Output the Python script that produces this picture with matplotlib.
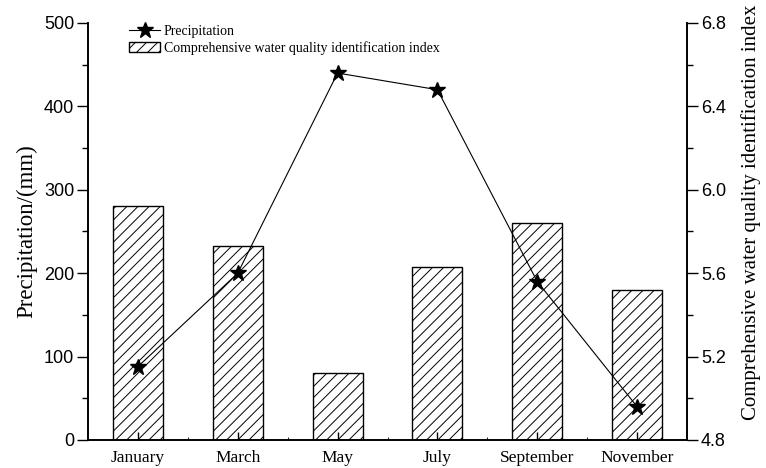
import matplotlib
matplotlib.use("Agg")
import matplotlib.pyplot as plt
from matplotlib.ticker import MultipleLocator, FixedLocator
import numpy as np

months = ["January", "March", "May", "July", "September", "November"]
precipitation = [88, 200, 440, 420, 190, 40]
wqi = [5.92, 5.73, 5.12, 5.63, 5.84, 5.52]

serif = ["Liberation Serif", "DejaVu Serif"]
sans = ["Liberation Sans", "DejaVu Sans"]

plt.rcParams["hatch.linewidth"] = 0.7

fig = plt.figure(figsize=(7.66, 4.68), dpi=100)
ax = fig.add_axes([88/766, 28/468, (687-88)/766, (440-23)/468])
ax2 = ax.twinx()

x = np.arange(len(months))

bars = ax2.bar(x, wqi, width=0.5, bottom=0, color="white", edgecolor="black",
               linewidth=1.0, hatch="///", label="Comprehensive water quality identification index")
line, = ax.plot(x, precipitation, color="black", linewidth=0.8, marker="*",
                markersize=12, markerfacecolor="black", markeredgecolor="black",
                label="Precipitation")

ax.set_zorder(ax2.get_zorder() + 1)
ax.patch.set_visible(False)

ax.set_xlim(-0.5, 5.5)
ax.set_ylim(0, 500)
ax2.set_ylim(4.8, 6.8)

ax.set_xticks(x)
ax.set_xticklabels(months, fontfamily=serif, fontsize=12.5)
ax.xaxis.set_minor_locator(FixedLocator(x[:-1] + 0.5))
ax.tick_params(axis="x", which="major", direction="in", length=6, width=1, pad=7)
ax.tick_params(axis="x", which="minor", direction="in", length=2, width=0.6)

ax.yaxis.set_major_locator(MultipleLocator(100))
ax.yaxis.set_minor_locator(MultipleLocator(50))
ax.tick_params(axis="y", which="major", direction="out", length=8, width=1, pad=2, labelsize=13)
ax.tick_params(axis="y", which="minor", direction="out", length=4, width=1)
for lab in ax.get_yticklabels():
    lab.set_fontfamily(sans)

ax2.yaxis.set_major_locator(MultipleLocator(0.4))
ax2.yaxis.set_minor_locator(MultipleLocator(0.2))
ax2.yaxis.set_major_formatter(matplotlib.ticker.FormatStrFormatter("%.1f"))
ax2.tick_params(axis="y", which="major", direction="out", length=8, width=1, pad=2, labelsize=13)
ax2.tick_params(axis="y", which="minor", direction="out", length=4, width=1)
for lab in ax2.get_yticklabels():
    lab.set_fontfamily(sans)

for a in (ax, ax2):
    a.spines["top"].set_visible(False)
    for s in ("left", "right", "bottom"):
        a.spines[s].set_linewidth(1.2)

ax.set_ylabel("Precipitation/(mm)", fontfamily=serif, fontsize=16.5, labelpad=5)
ax2.set_ylabel("Comprehensive water quality identification index", fontfamily=serif,
               fontsize=15, labelpad=11, y=0.547)

leg = ax.legend([line, bars], ["Precipitation", "Comprehensive water quality identification index"],
                loc="upper left", bbox_to_anchor=(0.055, 1.015), frameon=False,
                prop={"family": serif, "size": 10}, handlelength=2.2, handletextpad=0.3,
                labelspacing=0.2, borderaxespad=0.2)

fig.savefig("out.png", dpi=100)
